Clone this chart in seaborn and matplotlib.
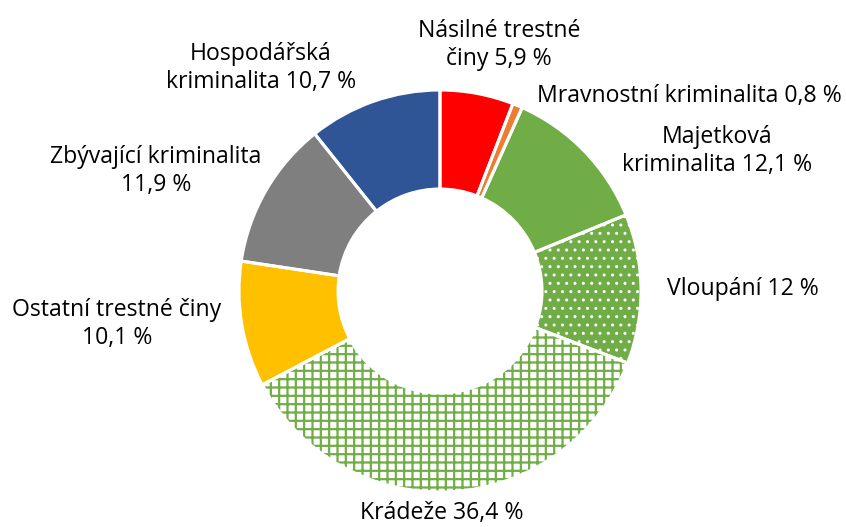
import matplotlib
matplotlib.use("Agg")
import matplotlib.pyplot as plt
from matplotlib.patches import Wedge
import seaborn as sns

sns.set_theme(style="white")
plt.rcParams['font.family'] = ['Open Sans', 'DejaVu Sans']

# ---- data ----
categories = ["Násilné trestné činy", "Mravnostní kriminalita", "Majetková kriminalita",
              "Vloupání", "Krádeže", "Ostatní trestné činy",
              "Zbývající kriminalita", "Hospodářská kriminalita"]
values = [5.9, 0.8, 12.1, 12.0, 36.4, 10.1, 11.9, 10.7]
labels = ["Násilné trestné\nčiny 5,9 %", "Mravnostní kriminalita 0,8 %",
          "Majetková\nkriminalita 12,1 %", "Vloupání 12 %", "Krádeže 36,4 %",
          "Ostatní trestné činy\n10,1 %", "Zbývající kriminalita\n11,9 %",
          "Hospodářská\nkriminalita 10,7 %"]

# ---- styles ----
face_colors = ["#FF0000", "#ED7D31", "#70AD47", "#70AD47", "#FFFFFF",
               "#FFC000", "#7F7F7F", "#2F5597"]
hatches = [None, None, None, "..", "++", None, None, None]
hatch_colors = [None, None, None, "#FFFFFF", "#70AD47", None, None, None]
hatch_lw = [None, None, None, 1.0, 1.6, None, None, None]
# label centres in pixels (x from left, y from top)
label_pos = [(499, 45), (689, 96), (717, 151), (743, 289), (442, 513),
             (117, 324), (156, 171), (261, 68)]

W, H = 846, 527
fig = plt.figure(figsize=(W / 100, H / 100), dpi=100)
ax = fig.add_axes([0, 0, 1, 1])
ax.set_xlim(0, W)
ax.set_ylim(0, H)
ax.set_aspect('equal')
ax.axis('off')

cx, cy, R = 440, H - 291, 201
ring_w = 99

wedges, _ = ax.pie(values, colors=face_colors, startangle=90, counterclock=False,
                   radius=R, center=(cx, cy),
                   wedgeprops=dict(width=ring_w, edgecolor='none', linewidth=0))
ax.set_xlim(0, W)
ax.set_ylim(0, H)

for w, h, hc, hl in zip(wedges, hatches, hatch_colors, hatch_lw):
    if h is None:
        continue
    plt.rcParams['hatch.linewidth'] = hl
    ov = Wedge(w.center, w.r, w.theta1, w.theta2, width=w.width,
               facecolor='none', edgecolor=hc, linewidth=0, hatch=h)
    ax.add_patch(ov)

# white separators on top
for w in wedges:
    ed = Wedge(w.center, w.r, w.theta1, w.theta2, width=w.width,
               facecolor='none', edgecolor='white', linewidth=2.2)
    ax.add_patch(ed)

for lab, (px, py) in zip(labels, label_pos):
    ax.text(px, H - py, lab, ha='center', va='center', fontsize=16.6,
            color='#000000', linespacing=1.22)

fig.savefig("out.png", dpi=100, facecolor='white')
